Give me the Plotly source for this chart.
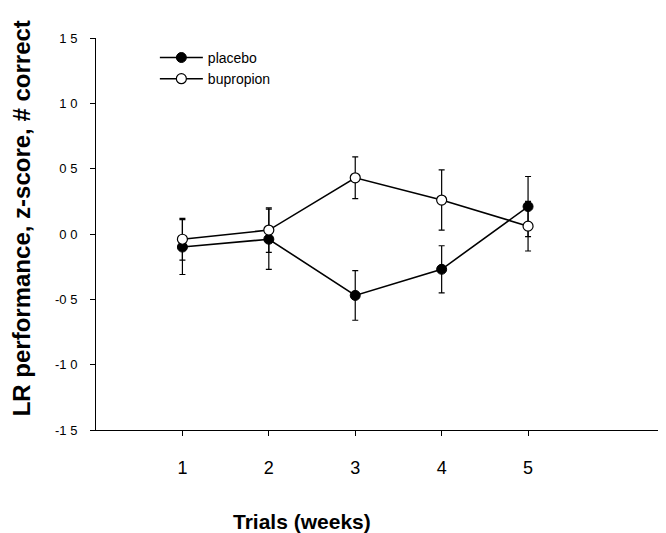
import plotly.graph_objects as go

trials = [1, 2, 3, 4, 5]
placebo = [-0.10, -0.04, -0.47, -0.27, 0.21]
placebo_err = [0.21, 0.23, 0.19, 0.18, 0.23]
bupropion = [-0.04, 0.03, 0.43, 0.26, 0.06]
bupropion_err = [0.16, 0.17, 0.16, 0.23, 0.19]
ytick_vals = [1.5, 1.0, 0.5, 0.0, -0.5, -1.0, -1.5]
ytick_text = ["1 5", "1 0", "0 5", "0 0", "-0 5", "-1 0", "-1 5"]

FONT = "Liberation Sans, Arial, sans-serif"

fig = go.Figure()
fig.add_trace(go.Scatter(
    x=trials, y=placebo, name="placebo", mode="lines+markers",
    line=dict(color="black", width=1.6),
    marker=dict(symbol="circle", size=10, color="black", line=dict(color="black", width=1)),
    error_y=dict(type="data", array=placebo_err, color="black", thickness=1.2, width=3),
))
fig.add_trace(go.Scatter(
    x=trials, y=bupropion, name="bupropion", mode="lines+markers",
    line=dict(color="black", width=1.6),
    marker=dict(symbol="circle", size=10, color="white", line=dict(color="black", width=1.2)),
    error_y=dict(type="data", array=bupropion_err, color="black", thickness=1.2, width=3),
))

fig.update_layout(
    width=666, height=533,
    margin=dict(l=88, r=12, t=30, b=111),
    paper_bgcolor="white", plot_bgcolor="white",
    font=dict(family=FONT, color="black"),
    showlegend=True,
    legend=dict(x=0.104, y=0.99, xanchor="left", yanchor="top",
                font=dict(size=14, family=FONT), bgcolor="rgba(0,0,0,0)",
                tracegroupgap=0, itemwidth=43),
    xaxis=dict(range=[0, 6.55], tickvals=trials, ticktext=[str(t) for t in trials],
               showline=True, linecolor="black", linewidth=1, mirror=False,
               showgrid=False, zeroline=False, ticks="outside", ticklen=5,
               tickcolor="black", tickfont=dict(size=18, family=FONT),
               ticklabelstandoff=16),
    yaxis=dict(range=[-1.5, 1.5], tickvals=ytick_vals, ticktext=ytick_text,
               showline=True, linecolor="black", linewidth=1, mirror=False,
               showgrid=False, zeroline=False, ticks="outside", ticklen=5,
               tickcolor="black", tickfont=dict(size=13, family=FONT),
               ticklabelstandoff=10),
    annotations=[
        dict(text="<b>Trials (weeks)</b>", x=0.364, y=0, xref="paper", yref="paper",
             yshift=-91, showarrow=False, font=dict(size=21, family=FONT),
             xanchor="center", yanchor="middle"),
        dict(text="<b>LR performance, z-score, # correct</b>", x=0, y=0.54,
             xref="paper", yref="paper", xshift=-75, showarrow=False,
             textangle=-90, font=dict(size=24, family=FONT),
             xanchor="center", yanchor="middle"),
    ],
)

fig.write_html("out.html")
